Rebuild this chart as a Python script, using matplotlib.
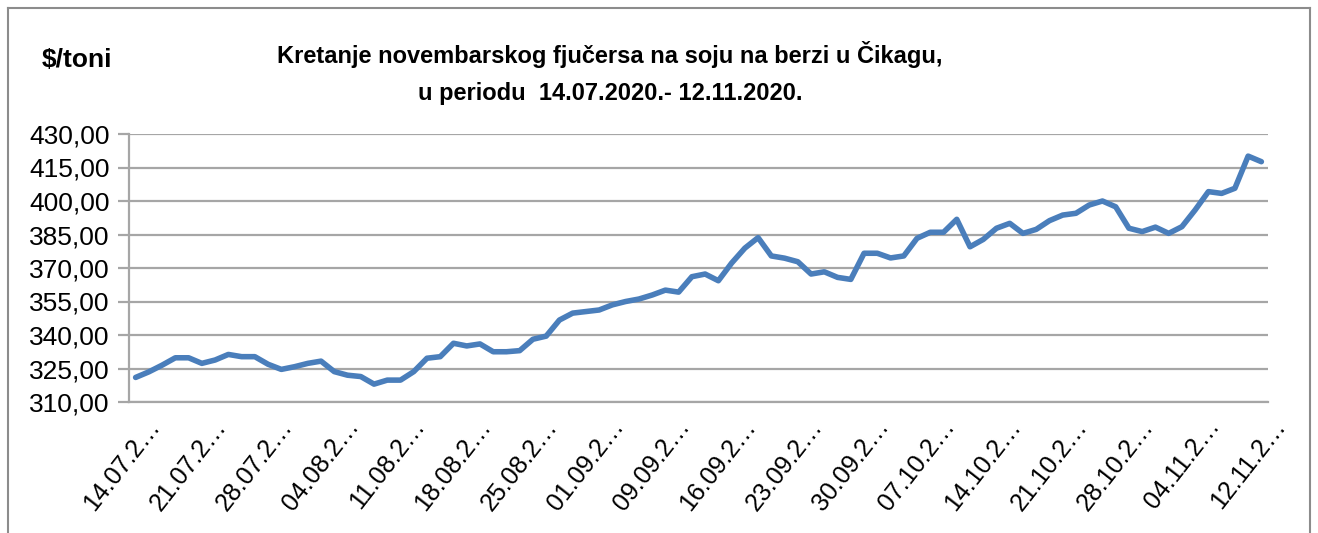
import matplotlib
matplotlib.use("Agg")
import matplotlib.pyplot as plt
import matplotlib.transforms as mtransforms
from matplotlib.lines import Line2D

# Cijene novembarskog fjučersa na soju (CBOT), $/toni, 86 trgovačkih dana
cijene = [
    321.0, 323.5, 326.5, 329.8, 329.8, 327.3, 328.8, 331.3, 330.3, 330.3,
    326.9, 324.6, 325.8, 327.3, 328.3, 323.6, 322.0, 321.4, 318.0, 319.8,
    319.8, 323.6, 329.6, 330.3, 336.3, 335.1, 336.0, 332.5, 332.5, 333.0,
    338.1, 339.5, 346.7, 349.8, 350.5, 351.2, 353.5, 355.0, 356.1, 357.9,
    360.1, 359.2, 366.1, 367.3, 364.3, 372.2, 378.9, 383.6, 375.4, 374.4,
    372.8, 367.3, 368.3, 365.8, 364.9, 376.6, 376.6, 374.5, 375.4, 383.3,
    386.0, 386.0, 391.8, 379.5, 382.8, 387.8, 390.0, 385.5, 387.3, 391.2,
    393.7, 394.5, 398.2, 400.0, 397.4, 387.8, 386.3, 388.3, 385.5, 388.5,
    396.0, 404.2, 403.4, 405.7, 420.1, 417.6,
]
x_oznake = [
    "14.07.2…", "21.07.2…", "28.07.2…", "04.08.2…", "11.08.2…", "18.08.2…",
    "25.08.2…", "01.09.2…", "09.09.2…", "16.09.2…", "23.09.2…", "30.09.2…",
    "07.10.2…", "14.10.2…", "21.10.2…", "28.10.2…", "04.11.2…", "12.11.2…",
]
y_vrijednosti = [310, 325, 340, 355, 370, 385, 400, 415, 430]

naslov = "Kretanje novembarskog fjučersa na soju na berzi u Čikagu,\nu periodu  14.07.2020.- 12.11.2020."

plt.rcParams['font.family'] = ['Liberation Sans', 'DejaVu Sans']

fig = plt.figure(figsize=(13.18, 5.33), dpi=100)
ax = fig.add_axes([129 / 1318, 1 - 402 / 533, (1268 - 129) / 1318, (402 - 134) / 533])

x = list(range(len(cijene)))
ax.plot(x, cijene, color='#4a7ebb', linewidth=4.0, solid_joinstyle='round', solid_capstyle='round')

ax.set_xlim(-0.5, len(cijene) - 0.5)
ax.set_ylim(310, 430)
ax.set_yticks(y_vrijednosti)
ax.set_yticklabels([f"{v:.2f}".replace('.', ',') for v in y_vrijednosti], fontsize=19)
pozicije = list(range(0, len(cijene), 5))
ax.set_xticks(pozicije)
ax.set_xticklabels([])

# oznake na x osi: desni kraj teksta malo desno i ispod ose
trans = mtransforms.blended_transform_factory(ax.transData, ax.transAxes)
trans = trans + mtransforms.ScaledTranslation(20 / 100, -20 / 100, fig.dpi_scale_trans)
for p, oznaka in zip(pozicije, x_oznake):
    ax.text(p, 0, oznaka, transform=trans, rotation=52, ha='right', va='center',
            rotation_mode='anchor', fontsize=18, clip_on=False)

ax.grid(axis='y', color='#a6a6a6', linewidth=1.6)
ax.set_axisbelow(True)
for s in ['top', 'right']:
    ax.spines[s].set_visible(False)
for s in ['left', 'bottom']:
    ax.spines[s].set_color('#a6a6a6')
    ax.spines[s].set_linewidth(1.6)
ax.tick_params(axis='y', length=8, width=1.6, color='#a6a6a6', pad=6)
ax.tick_params(axis='x', length=0, pad=0)

fig.text(610 / 1318, 1 - 73 / 533, naslov, ha='center', va='center', fontsize=17,
         fontweight='bold', linespacing=1.75)
fig.text(42 / 1318, 1 - 60 / 533, "$/toni", ha='left', va='center', fontsize=19, fontweight='bold')

# okvir grafikona
for xs, ys in [([8, 8], [533, 8]), ([8, 1310], [8, 8]), ([1310, 1310], [8, 533])]:
    fig.add_artist(Line2D([v / 1318 for v in xs], [1 - v / 533 for v in ys],
                          color='#8c8c8c', linewidth=1.5))

fig.savefig("out.png", dpi=100)
